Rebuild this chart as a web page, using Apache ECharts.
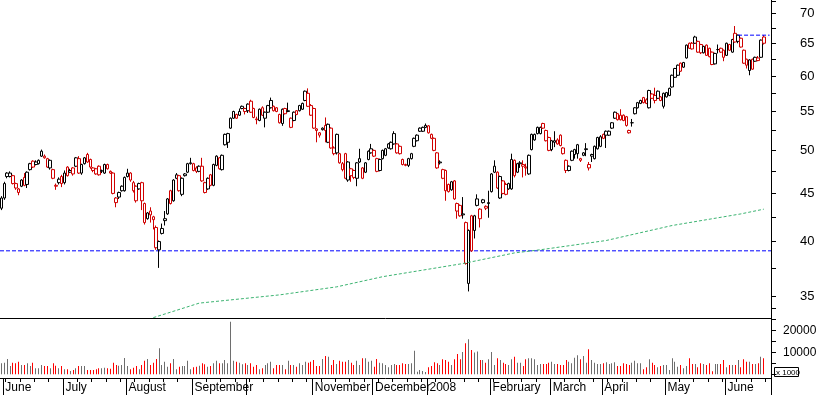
<!DOCTYPE html>
<html><head><meta charset="utf-8">
<script src="https://cdn.jsdelivr.net/npm/echarts@6/dist/echarts.min.js"></script>
<style>html,body{margin:0;padding:0;background:#fff}#c{width:817px;height:395px}</style>
</head><body><div id="c"></div>
<script>
// ---- DATA (one entry per trading day, June 2007 - June 2008) ----
const open = [
43.4,44.5,47.3,46.9,47.0,46.1,45.1,45.8,46.8,47.4,
47.7,48.7,48.6,48.4,49.9,49.3,49.0,47.9,47.7,45.9,
46.6,46.9,46.2,48.0,47.6,47.9,48.1,49.0,47.3,48.4,
49.5,48.9,47.6,47.8,48.1,47.6,47.3,48.3,47.5,47.3,
44.0,45.1,45.3,45.3,47.3,47.3,46.2,45.8,45.5,46.2,
43.9,42.3,43.1,42.2,41.4,39.2,41.3,42.1,42.8,45.3,
44.2,47.1,47.0,44.9,47.0,47.4,48.4,48.4,47.9,47.5,
48.1,46.2,45.5,47.1,45.9,48.2,49.1,47.7,50.7,51.0,
52.8,54.1,54.6,54.5,55.7,55.4,56.0,56.4,55.4,54.0,
53.8,55.5,54.1,54.9,55.5,55.7,55.5,54.6,53.4,55.4,
55.1,54.1,53.8,55.1,55.1,55.3,56.5,57.5,55.8,55.4,
52.7,51.9,52.8,53.15,51.0,52.8,50.3,52.0,49.6,47.7,
49.6,46.5,47.8,47.6,46.7,49.0,47.9,47.4,48.9,49.7,
50.0,49.0,47.6,49.0,49.4,50.8,50.2,50.8,50.8,50.5,
48.9,48.3,48.2,49.0,51.5,51.2,52.8,52.4,53.15,53.1,
52.0,51.5,49.7,48.6,47.7,47.6,46.0,45.4,46.4,43.9,
43.7,42.8,41.9,36.1,42.6,41.1,44.4,42.3,44.0,43.4,
44.0,45.2,48.1,47.4,44.5,46.4,46.0,45.5,45.5,48.8,
47.4,48.5,48.3,48.0,47.2,52.0,51.3,52.9,52.1,53.4,
52.5,51.6,51.2,51.2,51.3,51.9,50.3,48.8,47.6,48.8,
49.5,49.6,48.8,49.4,50.2,48.3,49.5,49.0,50.2,50.5,
52.0,52.4,51.9,52.8,54.1,53.9,54.5,54.5,54.3,52.2,
53.5,55.5,55.5,56.1,56.9,56.6,55.5,57.4,57.2,56.8,
57.0,55.7,57.0,57.2,58.4,59.8,60.1,61.9,61.3,62.7,
65.0,65.0,66.0,65.3,64.8,63.5,64.7,64.2,63.6,61.8,
64.0,64.2,63.9,63.1,64.8,63.6,66.6,66.3,65.8,63.9,
62.5,60.8,62.5,62.2,62.3,62.8,66.0
];
const high = [
44.7,46.3,47.4,47.5,47.1,46.2,45.6,46.6,47.3,47.5,
48.5,48.8,48.8,48.9,50.1,49.5,49.1,48.9,47.8,46.1,
46.8,47.1,47.6,48.1,47.8,48.0,49.2,49.3,48.4,49.2,
49.7,49.0,48.0,47.9,48.2,47.7,48.4,48.4,47.6,47.4,
44.6,45.2,45.9,46.9,47.8,47.4,46.4,45.9,46.2,46.3,
44.0,43.0,43.5,42.6,41.6,40.1,41.8,43.1,44.5,45.4,
46.6,47.3,47.1,46.8,47.3,48.5,49.1,48.5,48.1,48.2,
49.1,46.3,46.8,47.2,48.4,49.4,49.2,49.5,52.1,52.2,
54.2,55.1,54.7,55.4,55.8,55.5,56.1,56.6,55.5,54.3,
55.4,55.7,55.0,55.9,56.9,55.8,55.6,54.7,55.4,55.5,
56.2,54.2,55.0,55.2,55.9,56.2,57.9,58.2,56.0,55.5,
52.8,52.3,52.9,54.2,53.4,52.9,50.5,52.1,49.7,48.6,
49.7,48.7,47.9,47.7,48.6,50.2,48.0,48.6,50.0,50.8,
50.1,49.1,49.0,50.1,50.3,50.9,51.1,52.4,50.9,50.6,
49.0,48.4,49.1,49.7,51.6,52.0,52.9,53.0,53.4,53.2,
52.1,51.6,49.8,48.8,47.8,47.7,46.1,46.4,46.5,44.0,
43.8,44.6,42.0,41.2,42.7,42.7,44.9,43.4,44.4,43.7,
45.3,47.3,48.8,47.5,47.0,46.5,46.2,46.2,49.6,48.9,
48.5,48.7,48.8,48.4,49.5,52.1,52.1,53.0,53.0,53.5,
52.6,51.7,51.3,52.4,51.5,52.0,50.4,48.9,48.2,50.0,
50.2,50.8,49.1,49.8,50.9,48.6,49.6,50.6,51.7,51.9,
52.1,52.5,52.5,53.6,55.0,54.8,55.3,54.6,54.4,52.6,
54.0,55.6,56.3,56.6,57.0,56.8,58.0,57.5,58.3,57.9,
57.1,57.6,57.7,58.3,60.2,61.2,61.7,62.0,62.1,64.8,
65.1,65.2,66.2,65.4,64.9,64.6,64.8,64.3,63.7,63.5,
64.8,64.3,64.0,65.1,64.9,65.7,67.8,66.4,65.9,64.0,
62.6,62.5,62.6,62.9,63.0,65.6,66.3
];
const low = [
43.2,44.3,46.7,46.8,46.0,45.4,44.8,45.7,45.8,45.6,
47.6,47.9,48.2,48.3,49.2,49.0,47.9,47.7,46.6,45.4,
46.0,45.7,46.0,46.9,47.3,47.0,48.0,47.2,47.1,48.3,
48.5,47.8,47.4,47.1,47.0,47.3,47.2,47.7,47.2,44.9,
43.5,44.4,45.2,45.2,46.8,46.3,45.1,44.0,45.4,43.2,
41.7,42.2,41.9,41.2,39.2,37.5,40.7,41.6,42.7,43.8,
44.1,46.6,45.2,44.7,46.9,47.3,48.3,47.5,47.3,47.4,
46.3,45.0,45.4,45.8,45.8,48.1,47.7,47.6,50.6,50.3,
52.7,54.0,54.0,54.4,55.3,54.6,54.8,54.8,54.1,53.3,
53.7,54.4,52.9,54.8,55.4,55.0,54.9,53.4,53.1,54.6,
54.9,52.8,53.7,54.5,55.0,55.2,56.4,55.6,54.4,52.7,
51.0,51.6,52.5,51.0,50.9,50.2,49.4,49.5,48.4,47.5,
46.6,46.3,46.3,46.6,45.8,48.5,46.6,47.3,48.8,49.6,
49.2,47.4,47.5,48.9,49.3,50.2,50.1,50.7,49.6,49.5,
48.2,48.1,48.0,48.9,50.4,51.1,52.3,52.3,52.8,52.1,
51.4,49.9,47.8,48.3,46.6,44.2,45.1,45.3,44.3,42.3,
42.5,42.3,37.8,35.4,39.0,40.3,43.6,41.4,43.9,43.2,
42.4,45.1,47.3,45.5,44.4,44.9,44.8,45.4,45.4,46.8,
47.3,47.9,46.8,47.0,47.1,50.0,51.2,52.0,52.0,52.7,
51.1,49.9,49.9,50.4,50.7,50.5,49.5,47.3,47.5,48.7,
49.0,49.0,48.6,49.3,49.3,47.6,48.6,48.9,50.1,50.4,
51.4,50.3,51.8,52.7,54.0,53.8,53.8,53.7,53.0,52.1,
53.0,54.6,55.4,56.0,56.1,56.0,55.4,56.7,56.1,56.7,
56.4,55.4,56.9,57.1,58.3,59.7,60.0,60.6,61.2,62.6,
64.1,64.0,64.9,63.5,63.3,63.4,63.0,62.8,61.6,61.7,
63.4,63.5,62.2,63.0,63.8,63.5,65.1,65.0,64.3,61.8,
61.1,60.1,60.9,62.1,62.2,62.7,64.8
];
const close = [
44.5,46.1,46.9,47.3,46.1,45.6,45.5,46.5,45.9,46.0,
48.4,48.0,48.3,48.8,49.3,49.1,48.0,48.8,46.7,45.8,
46.2,46.1,47.3,47.0,47.4,47.2,49.1,47.3,48.3,49.1,
48.6,48.0,47.9,47.2,47.1,47.5,48.3,47.8,47.3,45.0,
44.5,44.6,45.8,46.8,46.9,46.5,45.3,44.2,46.1,44.2,
41.9,42.9,42.7,42.5,39.4,40.0,40.8,42.3,44.4,43.9,
46.5,46.7,45.3,46.7,47.2,48.4,48.5,47.6,47.5,48.1,
46.4,45.1,46.7,45.9,48.3,49.3,47.8,49.4,52.0,52.1,
54.1,55.0,54.1,55.0,55.4,55.0,55.1,54.9,54.2,53.9,
55.3,54.5,54.9,55.8,56.5,55.1,55.0,53.5,55.3,54.7,
55.0,52.9,54.9,54.6,55.8,56.1,57.8,55.7,54.5,52.8,
52.5,52.2,52.6,52.5,53.3,50.3,49.6,49.7,48.5,48.4,
46.7,48.6,47.0,46.8,48.5,48.6,46.7,48.5,49.9,50.2,
49.3,47.5,48.9,50.0,50.2,50.3,51.0,52.1,49.7,49.6,
48.3,48.2,49.0,49.6,50.5,51.9,52.4,52.9,52.9,52.2,
51.5,50.0,47.9,48.5,46.7,45.3,45.2,46.3,44.4,43.1,
42.6,42.7,37.9,41.1,39.1,42.6,43.7,43.3,44.3,43.6,
43.9,47.2,47.4,45.6,46.9,45.0,44.9,46.1,48.9,47.0,
48.4,48.4,48.1,47.9,49.4,50.1,52.0,52.1,52.9,52.8,
51.2,50.0,50.1,51.0,50.8,50.6,49.6,47.6,48.1,49.9,
50.1,50.7,49.0,49.7,50.1,47.9,49.3,50.5,51.6,51.7,
51.5,51.9,52.4,53.5,54.9,54.7,53.9,53.8,53.15,52.5,
53.5,54.7,56.2,56.5,56.2,56.1,57.9,56.8,56.5,57.8,
56.5,57.5,57.6,58.2,60.1,61.1,61.6,60.7,62.0,64.7,
64.2,64.1,65.0,63.6,63.5,64.5,63.1,62.9,61.7,63.4,
64.0,63.6,62.8,65.0,63.9,65.6,65.2,65.3,64.4,61.9,
61.6,62.4,61.0,62.8,62.7,65.5,65.0
];
const volume = [
4990,5280,6970,3760,5280,4990,5730,4220,4220,4990,
3760,5280,2690,2690,4220,3760,3760,2690,4990,3910,
2690,3760,2230,2230,1470,1930,2690,3760,3760,3760,
1930,1930,1930,2230,2690,2690,3000,2690,2540,5280,
4220,3910,4220,7430,3760,2230,3000,3760,2230,4220,
6200,6970,4220,5280,6970,11880,4220,5730,3450,4990,
6970,2230,3450,3760,3760,6200,2230,3150,3450,3910,
4990,4530,3450,3760,4990,6200,4990,4990,6510,4990,
24080,6200,5730,5280,4530,4990,4220,4990,3450,4220,
2230,2690,4220,4990,5730,2690,4220,4220,4220,2230,
6200,4220,4220,3450,4990,4220,5730,5280,5730,6510,
3760,3760,6970,8350,8040,4220,6510,4680,6200,5730,
5730,6510,5280,4220,6200,4220,7280,7280,5730,6200,
3450,6970,5280,4990,4220,3150,4220,4680,4220,4220,
4990,4680,4680,4990,10800,1150,1900,1470,1000,3200,
3760,5430,4990,4220,6820,6510,5730,4220,6820,9260,
6820,10160,14170,16000,11120,9900,10400,6510,6510,5280,
6820,10160,4220,7280,6510,5280,4680,4220,6820,8040,
5280,5280,3760,6820,7280,7280,6820,4220,4680,4680,
4680,5280,5730,4680,4680,4220,4220,6510,5730,4990,
7580,8650,6820,8350,5280,11420,6510,5280,4680,4680,
4990,5430,4680,4990,5430,3760,3760,4990,4680,4220,
5280,6200,4990,4990,2230,3150,6820,5280,4220,3150,
3760,4220,4220,1930,7280,5730,3450,4220,2690,3760,
7280,4680,4680,3150,4990,4680,4220,4990,1300,4680,
4680,4680,6510,3150,4220,4220,4220,6510,3150,6820,
5730,5730,4680,4680,4990,8040,7280
];
// trading-day index of first session of each month, and its label
const monthStartIdx = [1,22,44,67,86,109,130,149,171,192,210,232,253];
const monthLabels = ['June','July','August','September','','November','December','2008','February','March','April','May','June'];
const priceTickLabels = [35,40,45,50,55,60,65,70];
const priceTickMarks = [34,35,37.5,40,42.5,45,47.5,50,52.5,55,57.5,60,62.5,65,67.5,70,72];
const volumeTickLabels = [10000,20000];
const volumeTickMarks = [0,5000,10000,15000,20000,25000];
const supportLevel = 39.1;
const resistanceLevel = 66.3;
const resistanceStart = 257;
const maPoints = [[53,33.2],[69,34.4],[97,35.1],[117,35.8],[133,36.7],[161,37.9],[179,38.9],[188,39.2],[211,40.1],[234,41.6],[258,42.8],[266,43.3]];
const slotCount = 269;
const priceMin = 33.17, priceMax = 72.26;

// ---- build ----
const L = Math.log;
const categories = Array.from({length: slotCount}, (_, i) => String(i));
const RED = '#d00000', BLK = '#000000', BLUE = '#0000ff';
const candleData = close.map((c, i) => {
  const prev = i > 0 ? close[i-1] : open[i];
  const base = c >= prev ? BLK : RED;
  return {value: [L(open[i]), L(c), L(low[i]), L(high[i])],
    itemStyle: {color: '#ffffff', color0: base, borderColor: base, borderColor0: base}};
});
// volume: [dayIndex, volume, downFlag]
const volData = volume.map((v, i) => {
  const prev = i > 0 ? close[i-1] : open[i];
  return [i, v, close[i] < prev ? 1 : 0];
});
const monthSet = new Set(monthStartIdx);
const monthMap = {}; monthStartIdx.forEach((m, k) => monthMap[m] = monthLabels[k]);
const FONT = 'Liberation Sans, Arial, sans-serif';

function renderVolume(params, api) {
  const top = api.coord([api.value(0), api.value(1)]);
  const base = api.coord([api.value(0), 0]);
  const x = Math.floor(top[0]);
  return {type: 'rect', shape: {x: x, y: top[1], width: 1, height: base[1] - top[1]},
    style: {fill: api.value(2) ? '#ff0000' : '#6e6e6e'}};
}

const chart = echarts.init(document.getElementById('c'), null, {renderer: 'canvas'});
chart.setOption({
  animation: false,
  backgroundColor: '#ffffff',
  textStyle: {fontFamily: FONT},
  grid: [
    {left: 0, right: 46, top: 0, height: 318, containLabel: false, outerBoundsMode: 'none'},
    {left: 0, right: 46, top: 318, height: 60, containLabel: false, outerBoundsMode: 'none'}
  ],
  xAxis: [
    {type: 'category', gridIndex: 0, data: categories, boundaryGap: true,
     axisLine: {show: true, onZero: false, lineStyle: {color: '#000', width: 1}}, axisTick: {show: false}, axisLabel: {show: false}, splitLine: {show: false}},
    {type: 'category', gridIndex: 1, data: categories, boundaryGap: true,
     axisLine: {show: true, onZero: false, lineStyle: {color: '#000', width: 1}},
     axisTick: {show: true, length: 4, interval: (i) => i % 5 === 2, lineStyle: {color: '#000'}},
     axisLabel: {show: false}, splitLine: {show: false}},
    {type: 'category', gridIndex: 1, data: categories, boundaryGap: true, position: 'bottom',
     axisLine: {show: false, onZero: false},
     axisTick: {show: true, length: 17, interval: (i) => monthSet.has(i), lineStyle: {color: '#000'}},
     axisLabel: {show: true, interval: (i) => monthSet.has(i), formatter: (v, i) => monthMap[Number(v)] || '',
       align: 'left', margin: 4, fontSize: 12, color: '#000', fontFamily: FONT, padding: [0, 0, 0, 1]},
     splitLine: {show: false}},
    // helper axis spanning the full width of the price panel (for the full-width support level)
    {type: 'value', gridIndex: 0, min: 0, max: 1, show: false, axisLine: {onZero: false}}
  ],
  yAxis: [
    {type: 'value', gridIndex: 0, position: 'right', min: L(priceMin), max: L(priceMax), scale: true,
     axisLine: {show: true, onZero: false, lineStyle: {color: '#000', width: 1}},
     axisTick: {show: true, length: 5, customValues: priceTickMarks.map(L), lineStyle: {color: '#000'}},
     axisLabel: {show: true, customValues: priceTickLabels.map(L), formatter: (v) => String(Math.round(Math.exp(v))),
       margin: 29, fontSize: 13, color: '#000', fontFamily: FONT},
     splitLine: {show: false}},
    {type: 'value', gridIndex: 1, position: 'right', min: -1750, max: 25780,
     axisLine: {show: true, onZero: false, lineStyle: {color: '#000', width: 1}},
     axisTick: {show: true, length: 5, customValues: volumeTickMarks, lineStyle: {color: '#000'}},
     axisLabel: {show: true, customValues: volumeTickLabels, formatter: (v) => String(v),
       margin: 12, fontSize: 12, color: '#000', fontFamily: FONT},
     splitLine: {show: false}}
  ],
  series: [
    {type: 'line', xAxisIndex: 3, yAxisIndex: 0, data: [[0, L(supportLevel)], [1, L(supportLevel)]],
     showSymbol: false, symbol: 'none', silent: true, z: 1,
     lineStyle: {color: BLUE, width: 1, type: [4, 2]}},
    {type: 'line', xAxisIndex: 0, yAxisIndex: 0, data: [[resistanceStart, L(resistanceLevel)], [slotCount - 1, L(resistanceLevel)]],
     showSymbol: false, symbol: 'none', silent: true, z: 3,
     lineStyle: {color: BLUE, width: 1, type: [4, 2]}},
    {type: 'candlestick', xAxisIndex: 0, yAxisIndex: 0, barWidth: 3, data: candleData, z: 2,
     itemStyle: {borderWidth: 1}},
    {type: 'line', xAxisIndex: 0, yAxisIndex: 0, data: maPoints.map(p => [p[0], L(p[1])]),
     showSymbol: false, symbol: 'none', smooth: false, silent: true,
     lineStyle: {color: '#3cb371', width: 1, type: [3, 2]}},
    {type: 'custom', xAxisIndex: 1, yAxisIndex: 1, data: volData, renderItem: renderVolume, silent: true,
     encode: {x: 0, y: 1}}
  ],
  graphic: [
    {type: 'rect', shape: {x: 774.5, y: 367.5, width: 24, height: 9}, style: {fill: '#fff', stroke: '#000', lineWidth: 1}},
    {type: 'text', x: 776, y: 368.5, style: {text: 'x 1000', font: '8px ' + FONT, fill: '#000'}}
  ]
});
</script>
</body></html>
